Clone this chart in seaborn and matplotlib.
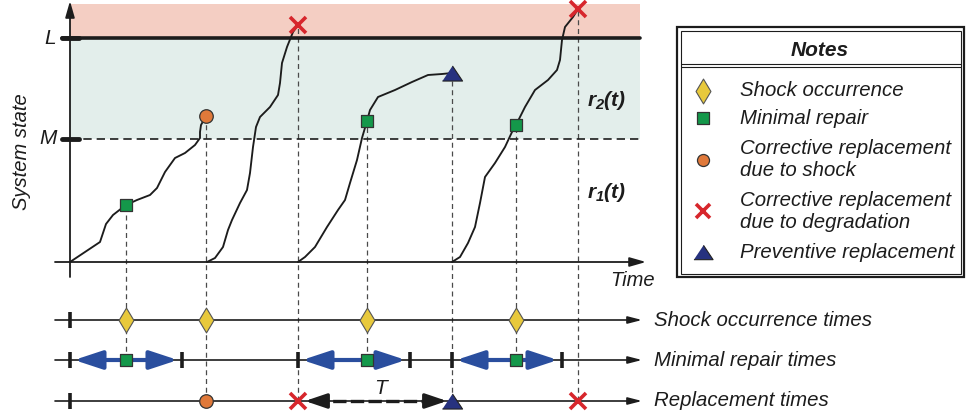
import pandas as pd
import matplotlib.pyplot as plt
import seaborn as sns
from matplotlib.patches import Rectangle

sns.set_theme(style="white")
plt.rcParams["font.family"] = ["Liberation Sans", "DejaVu Sans"]
plt.rcParams["mathtext.fontset"] = "custom"
plt.rcParams["mathtext.rm"] = "Liberation Sans:bold:italic"
plt.rcParams["mathtext.it"] = "Liberation Sans:bold:italic"

# thresholds on the system state axis
L_level = 22.4
M_level = 12.3

# degradation paths (time, state)
path1_t = [0.0, 1.5, 3.0, 3.3, 3.6, 4.3, 5.2, 5.6, 6.7, 8.0, 8.7, 9.5, 10.5, 11.5, 12.5, 13.0, 13.0, 13.1, 13.6]
path1_s = [0.0, 1.0, 2.0, 2.9, 3.8, 4.7, 5.4, 5.7, 6.2, 6.7, 7.4, 9.0, 10.4, 10.9, 11.7, 12.4, 13.0, 13.7, 14.6]
path2_t = [13.7, 14.5, 15.3, 15.8, 16.2, 17.0, 17.7, 18.0, 18.3, 18.6, 19.0, 20.0, 20.8, 21.0, 21.2, 21.7, 22.3, 22.8]
path2_s = [0.0, 0.4, 1.5, 3.2, 4.2, 5.9, 7.2, 8.9, 11.5, 13.5, 14.5, 15.5, 16.7, 17.9, 19.9, 21.5, 23.0, 23.7]
path3_t = [22.8, 23.5, 24.5, 25.7, 26.8, 27.5, 28.0, 28.7, 29.2, 29.7, 30.0, 30.8, 32.5, 34.2, 35.8, 37.2, 38.2]
path3_s = [0.0, 0.5, 1.5, 3.5, 5.2, 6.2, 7.9, 10.2, 12.4, 14.1, 15.2, 16.5, 17.2, 18.0, 18.7, 18.8, 18.9]
path4_t = [38.2, 39.0, 39.8, 40.5, 41.0, 41.5, 42.5, 43.5, 44.2, 44.6, 45.5, 46.5, 47.8, 48.7, 49.0, 49.2, 49.5, 50.3, 50.8]
path4_s = [0.0, 0.5, 1.9, 3.5, 5.9, 8.5, 9.9, 11.5, 13.0, 13.7, 15.5, 17.2, 18.2, 19.2, 20.2, 22.2, 23.5, 24.5, 25.3]

# events
shock_t = [5.6, 13.6, 29.7, 44.6]
repair_t = [5.6, 29.7, 44.6]
repair_s = [5.7, 14.1, 13.7]
corr_shock_t = [13.6]
corr_shock_s = [14.6]
corr_deg_t = [22.8, 50.8]
corr_deg_s = [23.7, 25.3]
prev_t = [38.2]
prev_s = [18.9]
repair_windows = [(0.0, 11.2), (22.8, 34.0), (38.2, 49.2)]
T_span = (22.8, 38.2)

row_names = ["Shock occurrence times", "Minimal repair times", "Replacement times"]
legend_names = ["Shock occurrence", "Minimal repair", "Corrective replacement\ndue to shock",
                "Corrective replacement\ndue to degradation", "Preventive replacement"]

# colours
ink = "#1c1c1c"
c_shock = "#e8c93c"
c_repair = "#14984a"
c_circle = "#e0793a"
c_cross = "#d7262c"
c_tri = "#27327f"
c_arrow = "#2a4e9e"

W, H = 967, 417
fig = plt.figure(figsize=(W / 100, H / 100), dpi=100)
ax = fig.add_axes([0, 0, 1, 1])
ax.set_xlim(-7.0, 89.7)
ax.set_ylim(-15.5, 26.2)
ax.axis("off")


def tx(px):
    return (px - 70) / 10


def sy(py):
    return (262 - py) / 10


rows = [sy(320), sy(360), sy(401)]
t_end = 57.0

# shaded regions
ax.fill_between([0, t_end], L_level, 25.8, color="#f4cec3", lw=0, zorder=0)
ax.fill_between([0, t_end], M_level, L_level, color="#e3eeeb", lw=0, zorder=0)
ax.plot([-0.8, t_end], [L_level, L_level], color=ink, lw=2.6, zorder=2)
ax.plot([-0.8, 0.9], [M_level, M_level], color=ink, lw=3.5, zorder=2)
ax.plot([0, t_end], [M_level, M_level], color=ink, lw=1.2, ls=(0, (5, 3)), zorder=2)
ax.plot([-0.8, 0.9], [L_level, L_level], color=ink, lw=3.5, zorder=2)

# axes arrows
ax.annotate("", xy=(0, 26.1), xytext=(0, -1.5),
            arrowprops=dict(arrowstyle="-|>,head_length=0.7,head_width=0.2", lw=1.3, color=ink,
                            shrinkA=0, shrinkB=0, mutation_scale=14), zorder=3)
ax.annotate("", xy=(57.6, 0), xytext=(-1.5, 0),
            arrowprops=dict(arrowstyle="-|>,head_length=0.7,head_width=0.2", lw=1.3, color=ink,
                            shrinkA=0, shrinkB=0, mutation_scale=14), zorder=3)

ax.text(tx(50), L_level, "L", fontsize=15, style="italic", ha="center", va="center", color=ink)
ax.text(tx(48), M_level, "M", fontsize=15, style="italic", ha="center", va="center", color=ink)
ax.text(tx(22), sy(152), "System state", fontsize=14.5, style="italic", rotation=90,
        ha="center", va="center", color=ink)
ax.text(tx(632), sy(281), "Time", fontsize=14.5, style="italic", ha="center", va="center", color=ink)
ax.text(tx(607), sy(100), r"$r_2(t)$", fontsize=15, ha="center", va="center", color=ink)
ax.text(tx(607), sy(193), r"$r_1(t)$", fontsize=15, ha="center", va="center", color=ink)

# degradation paths
paths = pd.concat([
    pd.DataFrame({"time": path1_t, "state": path1_s, "path": 1}),
    pd.DataFrame({"time": path2_t, "state": path2_s, "path": 2}),
    pd.DataFrame({"time": path3_t, "state": path3_s, "path": 3}),
    pd.DataFrame({"time": path4_t, "state": path4_s, "path": 4}),
])
sns.lineplot(data=paths, x="time", y="state", units="path", estimator=None, sort=False,
             color=ink, lw=1.35, ax=ax, zorder=4)

# dashed drop lines
dash = dict(colors="#4a4a4a", lw=0.9, linestyles=(0, (4, 3)), zorder=1)
ax.vlines(repair_t, rows[1], repair_s, **dash)
ax.vlines(corr_shock_t, rows[2], corr_shock_s, **dash)
ax.vlines(corr_deg_t, rows[2], corr_deg_s, **dash)
ax.vlines(prev_t, rows[2], prev_s, **dash)

# time lines
for r, name in zip(rows, row_names):
    ax.annotate("", xy=(57.2, r), xytext=(-1.5, r),
                arrowprops=dict(arrowstyle="-|>,head_length=0.7,head_width=0.18", lw=1.2, color=ink,
                                shrinkA=0, shrinkB=0, mutation_scale=12), zorder=2)
    ax.text(tx(654), r, name, fontsize=14.7, style="italic", ha="left", va="center", color=ink)

ax.plot([0], [rows[0]], marker="|", ms=11, mew=2.6, color=ink, ls="none", zorder=3)
ax.plot([0], [rows[2]], marker="|", ms=11, mew=2.6, color=ink, ls="none", zorder=3)
win_ticks = [t for w in repair_windows for t in w]
ax.plot(win_ticks, [rows[1]] * len(win_ticks), marker="|", ms=11, mew=2.6, color=ink, ls="none", zorder=3)

for a, b in repair_windows:
    ax.annotate("", xy=(b, rows[1]), xytext=(a, rows[1]),
                arrowprops=dict(arrowstyle="<|-|>,head_length=0.85,head_width=0.28", lw=3.0,
                                color=c_arrow, shrinkA=3, shrinkB=3, mutation_scale=20), zorder=3)

# T interval: dashed shaft with solid heads
t_a, t_b = T_span[0] + 0.7, T_span[1] - 0.5
ax.plot([t_a + 1.0, t_b - 1.0], [rows[2], rows[2]], color=ink, lw=2.4, ls=(0, (4, 1.3)), zorder=3)
for tip, tail in [(t_a, t_a + 1.6), (t_b, t_b - 1.6)]:
    ax.annotate("", xy=(tip, rows[2]), xytext=(tail, rows[2]),
                arrowprops=dict(arrowstyle="-|>,head_length=0.65,head_width=0.22", lw=2.4,
                                color=ink, shrinkA=0, shrinkB=0, mutation_scale=20), zorder=3)
ax.text(tx(380), sy(388), "T", fontsize=15, style="italic", ha="center", va="center", color=ink)

# markers
tri = [(-1, -0.75), (1, -0.75), (0, 0.75)]
sns.scatterplot(x=shock_t, y=[rows[0]] * len(shock_t), marker="d", s=160, color=c_shock,
                edgecolor="#555", linewidth=0.8, ax=ax, zorder=5)
sns.scatterplot(x=repair_t, y=repair_s, marker="s", s=85, color=c_repair,
                edgecolor="#333", linewidth=0.9, ax=ax, zorder=5)
sns.scatterplot(x=repair_t, y=[rows[1]] * len(repair_t), marker="s", s=85, color=c_repair,
                edgecolor="#333", linewidth=0.9, ax=ax, zorder=5)
sns.scatterplot(x=corr_shock_t + corr_shock_t, y=corr_shock_s + [rows[2]], marker="o", s=95,
                color=c_circle, edgecolor="#333", linewidth=0.9, ax=ax, zorder=5)
sns.scatterplot(x=prev_t + prev_t, y=prev_s + [rows[2]], marker=tri, s=210, color=c_tri,
                edgecolor="#222", linewidth=0.8, ax=ax, zorder=5)
ax.plot(corr_deg_t + corr_deg_t, corr_deg_s + [rows[2]] * 2, marker="x", ms=11, mew=2.6,
        color=c_cross, ls="none", zorder=6)

# notes box
x0, y0, x1, y1 = tx(677), sy(277), tx(964), sy(27)
ax.add_patch(Rectangle((x0, y0), x1 - x0, y1 - y0, fill=False, ec=ink, lw=1.6, zorder=3))
ax.add_patch(Rectangle((x0 + 0.35, y0 + 0.35), x1 - x0 - 0.7, y1 - y0 - 0.7, fill=False,
                       ec=ink, lw=0.8, zorder=3))
ax.plot([x0 + 0.35, x1 - 0.35], [sy(64), sy(64)], color=ink, lw=0.8)
ax.plot([x0 + 0.35, x1 - 0.35], [sy(66.5), sy(66.5)], color=ink, lw=0.8)
ax.text(tx(820), sy(51), "Notes", fontsize=15, style="italic", weight="bold",
        ha="center", va="center", color=ink)

leg_y = [sy(91), sy(118), sy(160), sy(211), sy(252)]
mx = tx(703)
ax.scatter([mx], [leg_y[0]], marker="d", s=160, color=c_shock, edgecolor="#555", linewidth=0.8, zorder=5)
ax.scatter([mx], [leg_y[1]], marker="s", s=65, color=c_repair, edgecolor="#333", linewidth=0.9, zorder=5)
ax.scatter([mx], [leg_y[2]], marker="o", s=75, color=c_circle, edgecolor="#333", linewidth=0.9, zorder=5)
ax.plot([mx], [leg_y[3]], marker="x", ms=10, mew=2.6, color=c_cross, zorder=5)
ax.scatter([mx], [leg_y[4]], marker=tri, s=190, color=c_tri, edgecolor="#222", linewidth=0.8, zorder=5)
for y, name in zip(leg_y, legend_names):
    ax.text(tx(740), y, name, fontsize=14.7, style="italic", ha="left", va="center",
            linespacing=1.2, color=ink)

fig.savefig("out.png", dpi=100)
